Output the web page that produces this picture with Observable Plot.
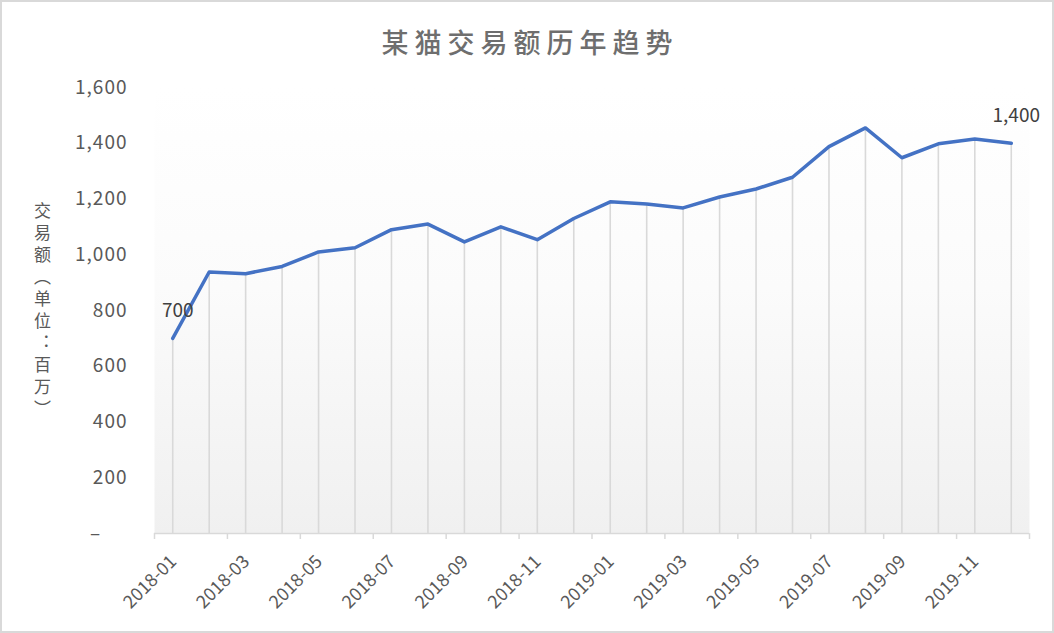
<!DOCTYPE html>
<html>
<head>
<meta charset="utf-8">
<script src="https://cdn.jsdelivr.net/npm/d3@7"></script>
<script src="https://cdn.jsdelivr.net/npm/@observablehq/plot@0.6"></script>
<style>
  html, body { margin: 0; padding: 0; background: #fff; }
  #wrap { position: relative; width: 1054px; height: 633px; box-sizing: border-box; border: 2px solid #d9d9d9; background: #fff; font-family: "Noto Sans CJK SC", "Noto Sans", sans-serif; }
  #title { height: 64px; box-sizing: border-box; padding-top: 22px; line-height: 36px; text-align: center; font-size: 27px; font-weight: 500; color: #6e6e6e; letter-spacing: 6px; padding-left: 6px; }
  #ylabel { position: absolute; left: 28px; top: 200px; writing-mode: vertical-rl; font-size: 17px; letter-spacing: 5px; color: #595959; }
  #chart svg { display: block; }
  #chart [aria-label="x-axis tick"] { stroke: #d9d9d9; stroke-width: 1.5px; }
  #chart [aria-label="x-axis"] .tick line { stroke: #d9d9d9; stroke-width: 1.5px; }
  #chart [aria-label="y-axis tick label"] text, #chart [aria-label="y-axis"] text { letter-spacing: 1px; }
</style>
</head>
<body>
<div id="wrap">
  <div id="title">某猫交易额历年趋势</div>
  <div id="ylabel">交易额（单位：百万）</div>
  <div id="chart"></div>
</div>
<script>
const months = ["2018-01","2018-02","2018-03","2018-04","2018-05","2018-06","2018-07","2018-08","2018-09","2018-10","2018-11","2018-12",
                "2019-01","2019-02","2019-03","2019-04","2019-05","2019-06","2019-07","2019-08","2019-09","2019-10","2019-11","2019-12"];
const values = [700, 938, 932, 958, 1010, 1025, 1090, 1110, 1046, 1100, 1054, 1130,
                1190, 1182, 1168, 1207, 1236, 1278, 1388, 1455, 1348, 1398, 1415, 1400];
const yTicks = [0, 200, 400, 600, 800, 1000, 1200, 1400, 1600];
const xTickIdx = [0, 2, 4, 6, 8, 10, 12, 14, 16, 18, 20, 22, 24];
const xLabelIdx = [0, 2, 4, 6, 8, 10, 12, 14, 16, 18, 20, 22];

const data = months.map((m, i) => ({month: m, idx: i, value: values[i]}));
const ends = [data[0], data[data.length - 1]];
const fmt = d3.format(",");

const plot = Plot.plot({
  width: 1050,
  height: 565,
  marginTop: 21,
  marginBottom: 98,
  marginLeft: 152,
  marginRight: 23,
  style: {fontFamily: "'Noto Sans CJK SC', 'Noto Sans', sans-serif", fontSize: "19px", color: "#595959", background: "transparent"},
  x: {type: "linear", domain: [0, months.length], ticks: xTickIdx, tickSize: 6, tickFormat: () => "", label: null},
  y: {domain: [0, 1600], ticks: yTicks, tickSize: 0, tickPadding: 27, label: null,
      tickFormat: d => d === 0 ? "–\u00a0\u00a0\u00a0\u00a0\u00a0" : fmt(d)},
  marks: [
    Plot.frame({fill: "url(#bgGrad)", stroke: "none"}),
    Plot.ruleX(data, {x: d => d.idx + 0.5, y1: 0, y2: "value", stroke: "#d9d9d9", strokeWidth: 1.6}),
    Plot.ruleY([0], {stroke: "#d9d9d9", strokeWidth: 1.6}),
    Plot.line(data, {x: d => d.idx + 0.5, y: "value", stroke: "#4472C4", strokeWidth: 3.5, strokeLinejoin: "round"}),
    Plot.text(ends, {x: d => d.idx + 0.5, y: "value", text: d => fmt(d.value), dx: 5, dy: -27, fontSize: 19, fill: "#404040"}),
    Plot.text(xLabelIdx, {x: d => d, text: d => months[d], frameAnchor: "bottom", rotate: -45, textAnchor: "end", lineAnchor: "middle", dx: 19, dy: 25, fontSize: 18, fill: "#595959", letterSpacing: "2px"})
  ]
});

const defs = d3.select(plot).insert("defs", ":first-child");
const grad = defs.append("linearGradient").attr("id", "bgGrad").attr("x1", 0).attr("y1", 0).attr("x2", 0).attr("y2", 1);
grad.append("stop").attr("offset", "0%").attr("stop-color", "#ffffff");
grad.append("stop").attr("offset", "45%").attr("stop-color", "#fbfbfb");
grad.append("stop").attr("offset", "100%").attr("stop-color", "#f0f0f0");

document.getElementById("chart").appendChild(plot);
</script>
</body>
</html>
